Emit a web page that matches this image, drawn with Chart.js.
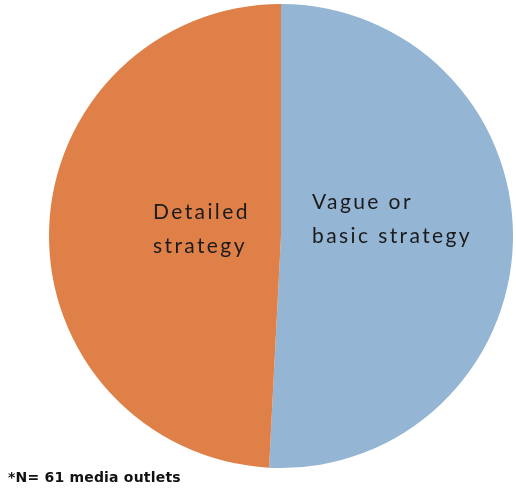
<!DOCTYPE html>
<html>
<head>
<meta charset="utf-8">
<script src="https://cdn.jsdelivr.net/npm/chart.js@4"></script>
<style>
    html, body { margin: 0; padding: 0; background: #fff; }
    #wrap { position: relative; width: 516px; height: 490px; }
    #nota {
        position: absolute; left: 8px; top: 469px;
        font: bold 14px 'DejaVu Sans', sans-serif; color: #111;
        letter-spacing: 0.2px;
        filter: blur(0.6px);
    }
</style>
</head>
<body>
<div id="wrap">
    <canvas id="chartEstrategia" width="516" height="490"></canvas>
    <div id="nota">*N= 61 media outlets</div>
</div>
<script>
// Estrategias de medios (N = 61)
const categorias = ['Vague or basic strategy', 'Detailed strategy'];
const valores = [31, 30];
const etiquetas = [['Vague or', 'basic strategy'], ['Detailed', 'strategy']];
const colores = ['#94B5D3', '#DE8048'];

// Texto dentro de cada sector, desplazado respecto al centro del pastel
const offsetsEtiquetas = [{ dx: 31, dy: -34 }, { dx: -128, dy: -24 }];

const pluginEtiquetas = {
    id: 'etiquetasSector',
    afterDatasetsDraw(chart) {
        const ctx = chart.ctx;
        const arcos = chart.getDatasetMeta(0).data;
        ctx.save();
        ctx.font = '21px Lato, sans-serif';
        ctx.letterSpacing = '2.4px';
        ctx.fillStyle = '#1b1b1b';
        ctx.textAlign = 'left';
        ctx.textBaseline = 'middle';
        arcos.forEach((arco, i) => {
            const off = offsetsEtiquetas[i];
            etiquetas[i].forEach((linea, j) => {
                ctx.fillText(linea, arco.x + off.dx, arco.y + off.dy + j * 34);
            });
        });
        ctx.restore();
    }
};

const ctx = document.getElementById('chartEstrategia').getContext('2d');
new Chart(ctx, {
    type: 'pie',
    data: {
        labels: categorias,
        datasets: [{
            data: valores,
            backgroundColor: colores,
            borderWidth: 0
        }]
    },
    options: {
        responsive: false,
        animation: false,
        layout: {
            padding: { top: 4, bottom: 22, left: 49, right: 3 }
        },
        plugins: {
            legend: { display: false },
            tooltip: { enabled: false }
        }
    },
    plugins: [pluginEtiquetas]
});
</script>
</body>
</html>
